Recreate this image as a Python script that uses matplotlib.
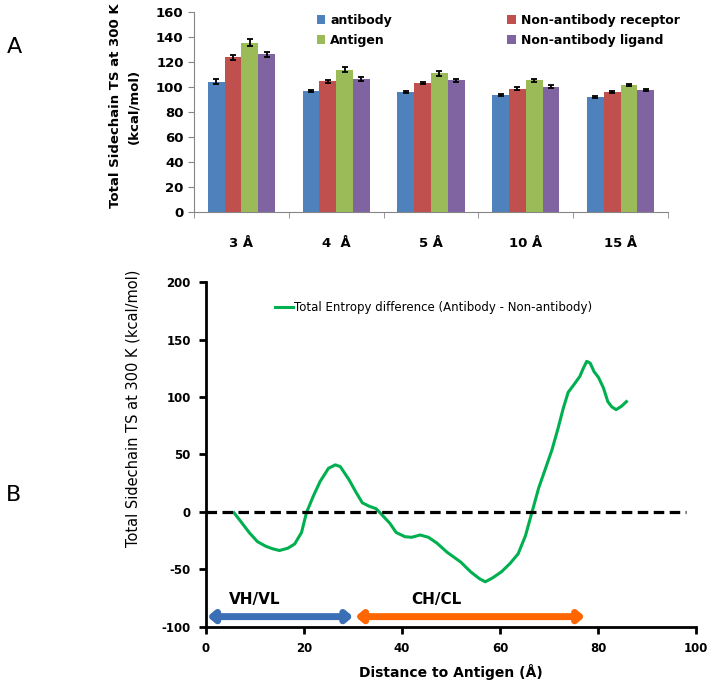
import matplotlib.pyplot as plt
import numpy as np

plt.rcParams['font.family'] = ['DejaVu Sans']
plt.rcParams['axes.unicode_minus'] = False

# ---- panel A: sidechain TS by cutoff radius
radii = ['3 Å', '4  Å', '5 Å', '10 Å', '15 Å']
antibody = [104.3, 96.6, 96.0, 93.8, 91.8]
antibody_err = [2.0, 1.0, 1.0, 0.8, 0.8]
receptor = [123.6, 104.6, 103.2, 98.6, 96.3]
receptor_err = [2.0, 1.3, 1.0, 1.2, 0.8]
antigen = [135.5, 113.6, 110.9, 105.2, 101.2]
antigen_err = [3.0, 2.0, 1.8, 1.0, 0.8]
ligand = [126.0, 106.4, 105.2, 100.3, 97.7]
ligand_err = [2.0, 1.3, 1.0, 1.0, 0.8]

# ---- panel B: entropy difference vs distance
dist = [5.7, 7.0, 8.8, 10.5, 12.2, 13.6, 15.0, 16.7, 18.1, 19.5, 20.5, 21.9,
        23.3, 25.0, 26.4, 27.4, 29.2, 30.5, 31.9, 33.3, 34.7, 36.0, 37.5, 38.8,
        40.6, 42.0, 43.7, 45.4, 47.1, 49.2, 52.0, 54.0, 55.8, 57.0, 58.5, 60.3,
        62.0, 63.7, 65.2, 66.5, 67.9, 69.3, 70.6, 71.8, 72.9, 73.9, 75.3, 76.3,
        77.0, 77.7, 78.4, 79.2, 80.1, 81.1, 82.0, 82.8, 83.7, 84.8, 85.8]
diff = [-0.6, -7.7, -17.8, -25.8, -29.8, -32.0, -33.5, -31.5, -27.8, -17.8, -0.6, 13.8,
        26.6, 38.0, 41.0, 39.5, 28.0, 18.0, 8.0, 5.0, 2.9, -2.9, -9.7, -17.8,
        -21.5, -22.0, -20.0, -22.0, -27.0, -35.0, -43.6, -52.0, -58.0, -60.7, -57.3, -52.0,
        -45.0, -36.4, -20.6, -0.6, 21.0, 38.0, 54.0, 72.0, 90.0, 104.0, 112.0, 118.0,
        125.0, 131.0, 129.5, 122.0, 117.0, 108.0, 96.0, 91.5, 89.0, 92.0, 96.0]

colors = ['#4F81BD', '#C0504D', '#9BBB59', '#8064A2']

fig = plt.figure(figsize=(7.14, 6.88), dpi=100)

# panel A
axA = fig.add_axes([0.2717, 0.6919, 0.6639, 0.2907])
x = np.arange(len(radii))
w = 0.177
series = [('antibody', antibody, antibody_err),
          ('Non-antibody receptor', receptor, receptor_err),
          ('Antigen', antigen, antigen_err),
          ('Non-antibody ligand', ligand, ligand_err)]
bars = {}
for i, (name, vals, err) in enumerate(series):
    bars[name] = axA.bar(x + (i - 1.5) * w, vals, w, yerr=err, color=colors[i],
                         error_kw=dict(ecolor='black', elinewidth=1.3, capsize=2.5, capthick=1.3),
                         label=name)
axA.set_xlim(-0.5, 4.5)
axA.set_ylim(0, 160)
axA.set_yticks(range(0, 161, 20))
axA.set_xticks(x)
axA.set_xticklabels(radii, fontweight='bold', fontsize=9.5)
axA.set_xticks(np.arange(-0.5, 5, 1), minor=True)
axA.tick_params(axis='x', which='major', length=0, pad=18)
axA.tick_params(axis='x', which='minor', length=4, color='#868686')
axA.tick_params(axis='y', length=4, color='#868686', labelsize=9.5)
for lab in axA.get_yticklabels():
    lab.set_fontweight('bold')
for s in ['top', 'right']:
    axA.spines[s].set_visible(False)
for s in ['left', 'bottom']:
    axA.spines[s].set_color('#868686')
    axA.spines[s].set_linewidth(0.8)
order = ['antibody', 'Antigen', 'Non-antibody receptor', 'Non-antibody ligand']
axA.legend([bars[k] for k in order], order, ncol=2, frameon=False,
           loc='upper left', bbox_to_anchor=(0.235, 1.045),
           prop={'weight': 'bold', 'size': 9}, handlelength=0.7, handleheight=0.7,
           handletextpad=0.4, columnspacing=9.2, labelspacing=0.55)
fig.text(0.175, 1 - 106 / 688, 'Total Sidechain TS at 300 K\n(kcal/mol)', rotation=90,
         ha='center', va='center', ma='center', fontsize=9.5, fontweight='bold',
         linespacing=1.5)

# panel B
axB = fig.add_axes([0.2885, 0.0887, 0.6863, 0.5014])
axB.plot(dist, diff, color='#00B050', lw=2.2,
         label='Total Entropy difference (Antibody - Non-antibody)')
axB.plot([0, 98], [0, 0], color='black', lw=2.3, ls=(0, (3.3, 1.7)))
axB.set_xlim(0, 100)
axB.set_ylim(-100, 200)
axB.set_xticks(range(0, 101, 20))
axB.set_yticks(range(-100, 201, 50))
axB.tick_params(width=2, length=5, labelsize=8.5, pad=6)
for lab in axB.get_xticklabels() + axB.get_yticklabels():
    lab.set_fontweight('bold')
for s in ['top', 'right']:
    axB.spines[s].set_visible(False)
for s in ['left', 'bottom']:
    axB.spines[s].set_linewidth(2)
axB.set_xlabel('Distance to Antigen (Å)', fontsize=10, fontweight='bold', labelpad=6)
fig.text(0.186, 1 - 408 / 688, 'Total Sidechain TS at 300 K (kcal/mol)', rotation=90,
         ha='center', va='center', fontsize=10.5)
axB.legend(loc='upper left', bbox_to_anchor=(0.12, 0.975), frameon=False, fontsize=8.5,
           handlelength=1.5, handletextpad=0.1)

axB.annotate('', xy=(0.3, -91), xytext=(30, -91),
             arrowprops=dict(arrowstyle='<|-|>,head_length=0.35,head_width=0.3',
                             color='#3A6EB5', lw=5, shrinkA=0, shrinkB=0))
axB.annotate('', xy=(30.5, -91), xytext=(77.3, -91),
             arrowprops=dict(arrowstyle='<|-|>,head_length=0.35,head_width=0.3',
                             color='#FF6600', lw=5, shrinkA=0, shrinkB=0))
axB.text(10, -76, 'VH/VL', ha='center', va='center', fontsize=11, fontweight='bold')
axB.text(47, -76, 'CH/CL', ha='center', va='center', fontsize=11, fontweight='bold')

fig.text(14 / 714, 1 - 47 / 688, 'A', ha='center', va='center', fontsize=16)
fig.text(14 / 714, 1 - 495 / 688, 'B', ha='center', va='center', fontsize=16)

fig.savefig('out.png', dpi=100)
